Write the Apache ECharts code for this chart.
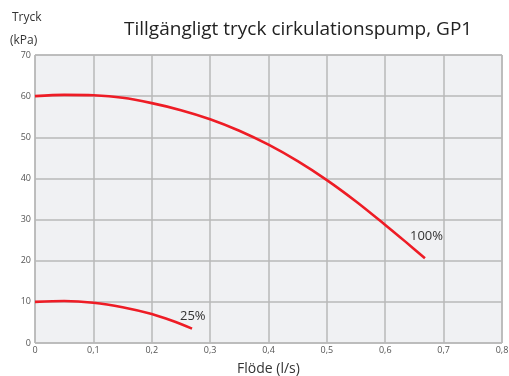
<!DOCTYPE html>
<html>
<head>
<meta charset="utf-8">
<script src="https://cdn.jsdelivr.net/npm/echarts@6/dist/echarts.min.js"></script>
<style>
  html, body { margin: 0; padding: 0; background: #ffffff; }
  #chart { width: 509px; height: 376px; }
</style>
</head>
<body>
<div id="chart"></div>
<script>
// Pump curves: available pressure (kPa) against flow (l/s)
const flow100 = [0, 0.05, 0.1, 0.15, 0.2, 0.25, 0.3, 0.35, 0.4, 0.45, 0.5, 0.55, 0.6, 0.634, 0.668];
const pressure100 = [60.0, 60.3, 60.2, 59.6, 58.3, 56.6, 54.4, 51.6, 48.2, 44.2, 39.6, 34.4, 28.7, 24.7, 20.6];

const flow25 = [0, 0.05, 0.1, 0.15, 0.2, 0.235, 0.269];
const pressure25 = [10.0, 10.2, 9.8, 8.7, 7.05, 5.4, 3.5];

const xTicks = [0, 0.1, 0.2, 0.3, 0.4, 0.5, 0.6, 0.7, 0.8];
const yTicks = [0, 10, 20, 30, 40, 50, 60, 70];

const curveLabels = ['100%', '25%'];

const font = '"Open Sans", "Noto Sans", sans-serif';
const zip = (xs, ys) => xs.map((x, i) => [x, ys[i]]);

const chart = echarts.init(document.getElementById('chart'), null, { renderer: 'canvas' });

const lineStyle = { color: '#ee1c25', width: 2.6 };

chart.setOption({
  animation: false,
  backgroundColor: '#ffffff',
  grid: {
    left: 35, right: 7, top: 55, bottom: 33,
    outerBoundsMode: 'none',
    containLabel: false,
    show: true,
    backgroundColor: '#f0f1f3',
    borderColor: '#9a9a9a',
    borderWidth: 1
  },
  xAxis: {
    type: 'value',
    min: xTicks[0], max: xTicks[xTicks.length - 1], interval: 0.1,
    axisLine: { show: false },
    axisTick: { show: false },
    splitLine: { lineStyle: { color: '#b8b8b8', width: 1.5 } },
    axisLabel: {
      color: '#555', fontSize: 9, fontFamily: font, margin: 3,
      formatter: v => String(Math.round(v * 10) / 10).replace('.', ','),
      showMaxLabel: true
    },
    name: 'Flöde (l/s)',
    nameLocation: 'middle',
    nameGap: 19,
    nameTextStyle: { color: '#333', fontSize: 14, fontFamily: font }
  },
  yAxis: {
    type: 'value',
    min: yTicks[0], max: yTicks[yTicks.length - 1], interval: 10,
    axisLine: { show: false },
    axisTick: { show: false },
    splitLine: { lineStyle: { color: '#b8b8b8', width: 1.5 } },
    axisLabel: { color: '#555', fontSize: 9, fontFamily: font, margin: 4 }
  },
  graphic: [
    { type: 'text', left: 12, top: 12, style: { text: 'Tryck', fill: '#333', font: '12px ' + font } },
    { type: 'text', left: 10, top: 35, style: { text: '(kPa)', fill: '#333', font: '12px ' + font } },
    { type: 'text', left: 124, top: 20, style: { text: 'Tillgängligt tryck cirkulationspump, GP1', fill: '#222', font: '19px ' + font } },
    { type: 'text', left: 410, top: 230, style: { text: curveLabels[0], fill: '#333', font: '13px ' + font } },
    { type: 'text', left: 180, top: 310, style: { text: curveLabels[1], fill: '#333', font: '13px ' + font } }
  ],
  series: [
    {
      name: curveLabels[0], type: 'line', data: zip(flow100, pressure100),
      smooth: 0.3, showSymbol: false, lineStyle: lineStyle
    },
    {
      name: curveLabels[1], type: 'line', data: zip(flow25, pressure25),
      smooth: 0.3, showSymbol: false, lineStyle: lineStyle
    }
  ]
});
</script>
</body>
</html>
